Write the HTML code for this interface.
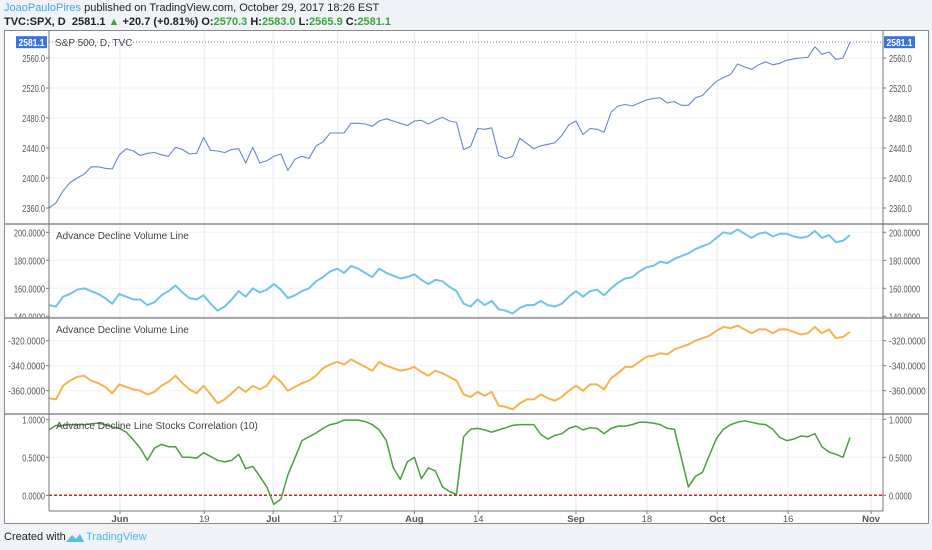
<!DOCTYPE html>
<html><head><meta charset="utf-8">
<style>
body{margin:0;width:932px;height:550px;background:#f0f3f7;font-family:"Liberation Sans",sans-serif;overflow:hidden;position:relative}
.hdr{position:absolute;left:4px;font-size:11px;color:#222;white-space:pre}
.g{color:#3ca43c}
svg{position:absolute;left:0;top:0}
</style></head><body>
<div class="hdr" style="top:2px"><span style="color:#3fa9e0">JoaoPauloPires</span> published on TradingView.com, October 29, 2017 18:26 EST</div>
<div class="hdr" style="top:16px;font-weight:bold">TVC:SPX, D  2581.1 <span class="g">▲</span> +20.7 (+0.81%) O:<span class="g">2570.3</span> H:<span class="g">2583.0</span> L:<span class="g">2565.9</span> C:<span class="g">2581.1</span></div>
<svg id="c" width="932" height="550"></svg>
<div class="hdr" style="top:531px;font-size:11px">Created with</div>
<svg width="20" height="12" style="left:65px;top:532px"><path d="M1 10 L7 3 L11 7 L15 2 L19 10 Z" fill="#5bbbe8"/></svg>
<div class="hdr" style="top:531px;left:86px;color:#4db6e8">TradingView</div>
<script>
const priceVals=[2360,2367,2383,2394,2400,2405,2415,2415,2413,2412,2431,2439,2436,2430,2433,2434,2431,2429,2441,2438,2432,2433,2454,2437,2436,2434,2438,2439,2420,2441,2420,2423,2429,2432,2410,2425,2429,2426,2443,2448,2460,2460,2460,2473,2473,2472,2469,2476,2479,2476,2473,2470,2476,2477,2472,2477,2481,2476,2474,2438,2442,
2466,2465,2467,2430,2426,2429,2453,2446,2439,2443,2445,2447,2457,2471,2476,2458,2466,2465,2461,2488,2496,2498,2496,2500,2504,2506,2507,2500,2502,2497,2497,2507,2510,2520,2529,2534,2538,2552,2548,2545,2551,2555,2551,2553,2557,2559,2560,2561,2575,2565,2568,2558,2560,2581.1];
const advVals=[148,147,154,156,159,160,158,156,153,149,156,154,152,152,148,150,155,158,162,157,153,152,155,149,144,147,152,158,154,160,157,159,163,159,153,155,158,160,165,168,172,174,171,176,174,171,168,174,171,169,167,168,170,166,163,166,165,161,158,149,147,
152,148,151,145,144,142,146,148,148,151,148,147,149,154,158,154,158,159,155,160,164,167,168,172,175,176,179,178,181,183,185,188,190,192,196,200,199,202,199,196,199,200,197,199,199,197,196,197,201,196,198,193,194,198];
const adv2Vals=[-366,-367,-356,-352,-349,-348,-352,-354,-357,-362,-355,-357,-359,-360,-363,-361,-356,-353,-348,-354,-359,-362,-356,-363,-370,-367,-362,-357,-361,-356,-359,-356,-348,-353,-360,-357,-354,-352,-348,-342,-339,-337,-339,-335,-338,-341,-344,-337,-340,-342,-344,-343,-341,-345,-348,-344,-346,-349,-352,-363,-365,
-361,-364,-361,-372,-373,-375,-370,-367,-367,-363,-366,-368,-365,-360,-356,-360,-355,-355,-359,-350,-346,-341,-341,-337,-333,-332,-330,-331,-327,-325,-323,-320,-318,-316,-312,-309,-310,-308,-311,-314,-311,-311,-314,-311,-311,-313,-315,-314,-309,-314,-311,-318,-317,-313];
const corrVals=[.86,.92,.92,.93,.93,.93,.94,.95,.93,.90,.88,.83,.73,.62,.46,.62,.67,.64,.64,.50,.50,.49,.56,.51,.46,.44,.46,.54,.35,.38,.25,.11,-.12,-.05,.27,.49,.72,.77,.82,.88,.93,.95,.99,.99,.99,.97,.93,.86,.72,.36,.21,.44,.50,.22,.36,.32,.11,.05,.01,.77,.87,
.88,.86,.83,.86,.89,.92,.93,.93,.93,.80,.74,.79,.81,.88,.91,.86,.89,.88,.81,.88,.91,.91,.93,.96,.96,.95,.93,.88,.87,.49,.11,.25,.30,.53,.75,.87,.93,.96,.98,.96,.94,.93,.87,.76,.72,.74,.78,.77,.81,.64,.57,.54,.50,.76];
const timeLabels=["Jun","19","Jul","17","Aug","14","Sep","18","Oct","16","Nov"];
const timeIdx=[10.1,22.1,31.9,41.1,52,61.1,75,85.1,95.1,105.2,117];
const boldLabels=["Jun","Jul","Aug","Sep","Oct","Nov"];
const priceTicks=[2360,2400,2440,2480,2520,2560];
const advTicks=[140,160,180,200];
const adv2Ticks=[-320,-340,-360];
const corrTicks=[0,0.5,1];

const NS="http://www.w3.org/2000/svg";
const svg=document.getElementById('c');
function mk(tag,at,parent){const e=document.createElementNS(NS,tag);for(const k in at)e.setAttribute(k,at[k]);(parent||svg).appendChild(e);return e;}
const X0=49,X1=883,XS=850;
function xAt(i,n){return X0+i*(XS-X0)/(n-1);}
function tl(s){return (s.replace(/[.]/g,'').length*4.15+(s.includes('.')?2:0)+(s.includes('-')?1.5:0)).toFixed(1);}
const panels=[
 {name:'price',top:31,bot:224,y:v=>58+(2560-v)*0.75,ticks:priceTicks,fmt:v=>v.toFixed(1),vals:priceVals,color:'#6487d0',w:1.1},
 {name:'adv-volume',top:224,bot:318,y:v=>232.3+(200-v)*1.4,ticks:advTicks,fmt:v=>v.toFixed(4),vals:advVals,color:'#6fc4e6',w:2,title:'Advance Decline Volume Line'},
 {name:'adv-volume-2',top:318,bot:414,y:v=>340.7+(-320-v)*1.25,ticks:adv2Ticks,fmt:v=>v.toFixed(4),vals:adv2Vals,color:'#f8b24c',w:2,title:'Advance Decline Volume Line'},
 {name:'correlation',top:414,bot:511,y:v=>495.3-v*76,ticks:corrTicks,fmt:v=>v.toFixed(4),vals:corrVals,color:'#4a9e3e',w:1.5,title:'Advance Decline Line Stocks Correlation (10)'}
];
const bg=mk('rect',{x:4.5,y:30.5,width:924,height:493,fill:'#fff',stroke:'#8a8a8a'});


timeIdx.forEach((t,k)=>{const x=xAt(t,115);
 const l=mk('line',{x1:x,x2:x,y1:31,y2:511,stroke:'#e6eaef'});
 
 
 mk('line',{x1:x,x2:x,y1:511,y2:514,stroke:'#777'});
 const tx=mk('text',{x:x,y:522,'text-anchor':'middle','font-size':9.5,fill:'#555','font-weight':boldLabels.includes(timeLabels[k])?'bold':'normal'});
 tx.textContent=timeLabels[k];
 
 
});
panels.forEach((p,pi)=>{
 const cp=mk('clipPath',{id:'cp'+pi});mk('rect',{x:X0,y:p.top,width:X1-X0,height:p.bot-p.top},cp);
 const lc=mk('clipPath',{id:'lc'+pi});mk('rect',{x:0,y:p.top,width:932,height:p.bot-p.top},lc);
 p.ticks.forEach(v=>{const y=p.y(v);
  const g=mk('line',{x1:X0,x2:X1,y1:y,y2:y,stroke:'#eef0f3'});
  
  
  mk('line',{x1:X0-3,x2:X0,y1:y,y2:y,stroke:'#777'});
  mk('line',{x1:X1,x2:X1+3,y1:y,y2:y,stroke:'#777'});
  const s=p.fmt(v);
  const a=mk('text',{x:X0-4,y:y+4,'text-anchor':'end','font-size':10.5,fill:'#555',textLength:tl(s),lengthAdjust:'spacingAndGlyphs','clip-path':'url(#lc'+pi+')'});a.textContent=s;
  
  
  const b=mk('text',{x:X1+6,y:y+4,'font-size':10.5,fill:'#555',textLength:tl(s),lengthAdjust:'spacingAndGlyphs','clip-path':'url(#lc'+pi+')'});b.textContent=s;
  
  
 });
 if(p.name==='correlation'){
  const z=mk('line',{x1:X0,x2:X1,y1:p.y(0),y2:p.y(0),stroke:'#e02020','stroke-width':1.5,'stroke-dasharray':'3,2'});
  
  
 }
 if(p.name==='price'){
  const y=p.y(2581.1);
  const d=mk('line',{x1:X0,x2:X1,y1:y,y2:y,stroke:'#6487d0','stroke-dasharray':'1,2'});
  
  
  [[16,X0-2],[X1+1,X1+32]].forEach((r,k)=>{
   const bx=mk('rect',{x:r[0],y:y-6,width:r[1]-r[0],height:12,fill:'#3b74d4'});
   
   
   const t=mk('text',{x:(r[0]+r[1])/2,y:y+4,'text-anchor':'middle','font-size':10.5,fill:'#fff','font-weight':'bold',textLength:26,lengthAdjust:'spacingAndGlyphs'});t.textContent='2581.1';
  });
  const tt=mk('text',{x:55,y:y+4,'font-size':10,fill:'#444'});tt.textContent='S&P 500, D, TVC';
  
  
 }
 const n=p.vals.length;
 const pts=p.vals.map((v,i)=>xAt(i,n).toFixed(1)+','+p.y(v).toFixed(1)).join(' ');
 const pl=mk('polyline',{points:pts,fill:'none',stroke:p.color,'stroke-width':p.w,'stroke-linejoin':'round','clip-path':'url(#cp'+pi+')'});
 
 
 if(p.title){const t=mk('text',{x:56,y:p.top+15,'font-size':10,fill:'#444'});t.textContent=p.title;
  
  }
 if(pi>0){const s=mk('line',{x1:4,x2:928,y1:p.top,y2:p.top,stroke:'#8a8a8a','stroke-width':1.5});
  
  }
});
mk('line',{x1:X0,x2:X0,y1:30,y2:511,stroke:'#777'});
mk('line',{x1:X1,x2:X1,y1:30,y2:511,stroke:'#777'});
mk('line',{x1:X0,x2:X1,y1:511,y2:511,stroke:'#777'});
</script>
</body></html>
